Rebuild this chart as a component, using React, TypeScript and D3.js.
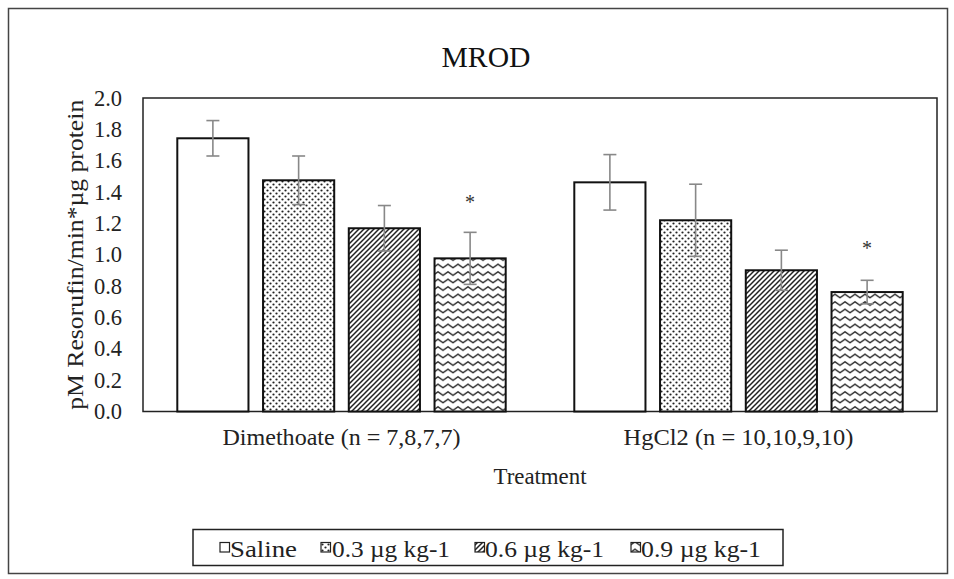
import React from "react";
import * as d3 from "d3";

const categories = ["Dimethoate (n = 7,8,7,7)", "HgCl2 (n = 10,10,9,10)"];
const seriesNames = ["Saline", "0.3 µg kg-1", "0.6 µg kg-1", "0.9 µg kg-1"];
const salineMeans = [1.743, 1.462];
const salineErr = [0.113, 0.177];
const dose03Means = [1.475, 1.22];
const dose03Err = [0.155, 0.23];
const dose06Means = [1.169, 0.901];
const dose06Err = [0.145, 0.128];
const dose09Means = [0.977, 0.762];
const dose09Err = [0.166, 0.075];
const yTicks = [0, 0.2, 0.4, 0.6, 0.8, 1.0, 1.2, 1.4, 1.6, 1.8, 2.0];
const sigCategory = [0, 1];
const sigSeries = [3, 3];
const sigLevel = [1.362, 1.069];
const sigLabel = ["*", "*"];

const chartTitle = "MROD";
const yTitle = "pM Resorufin/min*µg protein";
const xTitle = "Treatment";

const means = [salineMeans, dose03Means, dose06Means, dose09Means];
const errs = [salineErr, dose03Err, dose06Err, dose09Err];
const fills = ["#ffffff", "url(#pDots)", "url(#pDiag)", "url(#pZig)"];

const FONT = "'Liberation Serif', 'Times New Roman', serif";

export default function App() {
  const W = 954;
  const H = 579;
  const left = 143, right = 937, top = 98, bottom = 411.5;
  const x0 = d3.scaleBand<string>().domain(categories).range([left, right]).padding(0);
  const x1 = d3
    .scaleBand<string>()
    .domain(seriesNames)
    .range([0, x0.bandwidth()])
    .paddingInner(0.17)
    .paddingOuter(0.4);
  const y = d3.scaleLinear().domain([0, 2]).range([bottom, top]);
  const fmt = d3.format(".1f");
  const cap = 6.5;

  const legendItems = [
    { x: 220, tx: 230, w: 67 },
    { x: 321, tx: 332, w: 118 },
    { x: 475, tx: 485, w: 119 },
    { x: 631, tx: 641, w: 120 },
  ];
  const catWidths = [238, 230];

  return (
    <svg
      width={W}
      height={H}
      style={{ position: "absolute", left: 0, top: 0, background: "#fff" }}
      fontFamily={FONT}
    >
      <defs>
        <pattern id="pDots" width="6" height="6" patternUnits="userSpaceOnUse">
          <rect width="6" height="6" fill="#fff" />
          <circle cx="1.5" cy="1.5" r="1.1" fill="#222" />
          <circle cx="4.5" cy="4.5" r="1.1" fill="#222" />
        </pattern>
        <pattern id="pDiag" width="5" height="5" patternUnits="userSpaceOnUse">
          <rect width="5" height="5" fill="#fff" />
          <path d="M-1,1 l2,-2 M0,5 l5,-5 M4,6 l2,-2" stroke="#222" strokeWidth="1.5" />
        </pattern>
        <pattern id="pZig" width="10" height="7.5" patternUnits="userSpaceOnUse">
          <rect width="10" height="7.5" fill="#fff" />
          <path d="M-5,1.8 L0,5.2 L5,1.8 L10,5.2 L15,1.8" stroke="#222" strokeWidth="1.4" fill="none" />
        </pattern>
      </defs>

      <rect x={0} y={0} width={W} height={H} fill="#fff" />
      <rect x={8.5} y={8.5} width={939} height={565} fill="none" stroke="#444" strokeWidth={1.5} />

      <text x={486} y={67} textAnchor="middle" fontSize={30} fill="#111" textLength={89} lengthAdjust="spacingAndGlyphs">
        {chartTitle}
      </text>

      {/* plot frame */}
      <rect x={left} y={top} width={right - left} height={bottom - top} fill="none" stroke="#222" strokeWidth={1.5} />

      {/* y tick labels */}
      {yTicks.map((t) => (
        <text key={t} x={122} y={y(t) + 7.5} textAnchor="end" fontSize={22.5} fill="#222">
          {fmt(t)}
        </text>
      ))}

      <text
        transform={`translate(83,${(top + bottom) / 2}) rotate(-90)`}
        textAnchor="middle"
        fontSize={23.5}
        fill="#222"
        textLength={310}
        lengthAdjust="spacingAndGlyphs"
      >
        {yTitle}
      </text>

      {/* bars */}
      {categories.map((c, ci) => (
        <g key={c} transform={`translate(${x0(c)},0)`}>
          {seriesNames.map((s, si) => {
            const v = means[si][ci];
            const e = errs[si][ci];
            const bx = x1(s)!;
            const bw = x1.bandwidth();
            const cx = bx + bw / 2;
            return (
              <g key={s}>
                <rect x={bx} y={y(v)} width={bw} height={y(0) - y(v)} fill={fills[si]} stroke="#111" strokeWidth={2} />
                <line x1={cx} x2={cx} y1={y(v + e)} y2={y(v - e)} stroke="#888" strokeWidth={1.6} />
                <line x1={cx - cap} x2={cx + cap} y1={y(v + e)} y2={y(v + e)} stroke="#888" strokeWidth={1.6} />
                <line x1={cx - cap} x2={cx + cap} y1={y(v - e)} y2={y(v - e)} stroke="#888" strokeWidth={1.6} />
              </g>
            );
          })}
        </g>
      ))}

      {/* significance marks */}
      {sigLabel.map((lab, i) => {
        const c = categories[sigCategory[i]];
        const s = seriesNames[sigSeries[i]];
        const cx = x0(c)! + x1(s)! + x1.bandwidth() / 2;
        return (
          <text key={i} x={cx} y={y(sigLevel[i]) + 11} textAnchor="middle" fontSize={20} fill="#333">
            {lab}
          </text>
        );
      })}

      {/* category labels */}
      {categories.map((c, i) => (
        <text
          key={c}
          x={x0(c)! + x0.bandwidth() / 2}
          y={445}
          textAnchor="middle"
          fontSize={23.5}
          fill="#222"
          textLength={catWidths[i]}
          lengthAdjust="spacingAndGlyphs"
        >
          {c}
        </text>
      ))}

      <text x={(left + right) / 2} y={484} textAnchor="middle" fontSize={23.5} fill="#222" textLength={93} lengthAdjust="spacingAndGlyphs">
        {xTitle}
      </text>

      {/* legend */}
      <rect x={193} y={529.5} width={590} height={36} fill="#fff" stroke="#222" strokeWidth={1.5} />
      {seriesNames.map((s, i) => (
        <g key={s}>
          <rect x={legendItems[i].x} y={542.5} width={9.5} height={9.5} fill={fills[i]} stroke="#222" strokeWidth={1.2} />
          <text
            x={legendItems[i].tx}
            y={556.5}
            fontSize={24}
            fill="#222"
            textLength={legendItems[i].w}
            lengthAdjust="spacingAndGlyphs"
          >
            {s}
          </text>
        </g>
      ))}
    </svg>
  );
}
